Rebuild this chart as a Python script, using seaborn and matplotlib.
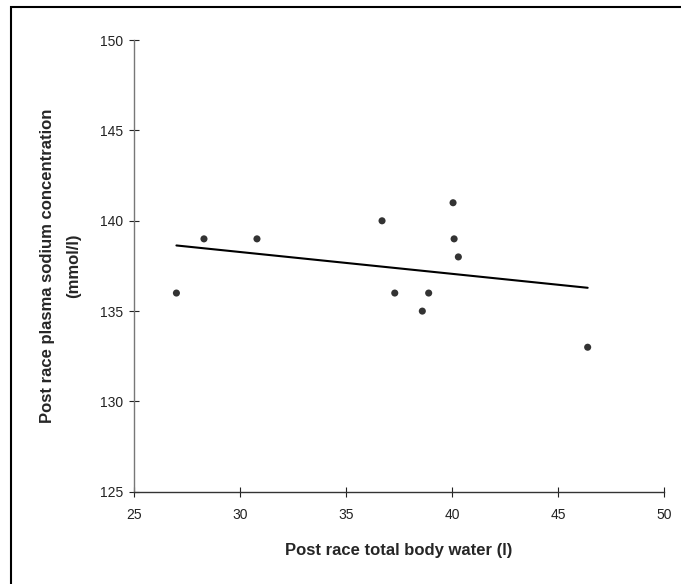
import matplotlib
matplotlib.use("Agg")
import matplotlib.pyplot as plt
import seaborn as sns
import pandas as pd
from matplotlib.patches import Rectangle

# Data
total_body_water = [27.0, 28.3, 30.8, 36.7, 37.3, 38.6, 38.9, 40.05, 40.1, 40.3, 46.4]
plasma_sodium = [136, 139, 139, 140, 136, 135, 136, 141, 139, 138, 133]
x_ticks = [25, 30, 35, 40, 45, 50]
y_ticks = [125, 130, 135, 140, 145, 150]
x_label = "Post race total body water (l)"
y_label = "Post race plasma sodium concentration\n(mmol/l)"

df = pd.DataFrame({"tbw": total_body_water, "na": plasma_sodium})

sns.set_style("white")
plt.rcParams["font.family"] = ["Liberation Sans", "DejaVu Sans"]

fig = plt.figure(figsize=(6.81, 5.84), dpi=100)
ax = fig.add_axes([0.1968, 0.158, 0.975 - 0.1968, 0.9312 - 0.158])

sns.regplot(data=df, x="tbw", y="na", ax=ax, ci=None, truncate=True,
            scatter_kws=dict(s=26, color="#333333", edgecolor="none", alpha=1),
            line_kws=dict(color="black", lw=1.5))

ax.set_xlim(25, 50)
ax.set_ylim(125, 150)
ax.set_xticks(x_ticks)
ax.set_yticks(y_ticks)
ax.set_xlabel(x_label, fontsize=12, fontweight="bold", labelpad=15.5)
ax.set_ylabel(y_label, fontsize=12, fontweight="bold", labelpad=14, linespacing=1.9)

for s in ["top", "right"]:
    ax.spines[s].set_visible(False)
ax.spines["left"].set_color("#777777")
ax.spines["bottom"].set_color("#333333")
ax.spines["left"].set_linewidth(1.0)
ax.spines["bottom"].set_linewidth(1.0)
ax.tick_params(axis="both", which="major", bottom=True, left=True,
               direction="inout", length=7, width=0.8, colors="#222222",
               labelsize=10, pad=4)
ax.tick_params(axis="x", pad=8)
ax.grid(False)

# Frame around the figure: only the left and top edges fall inside the image
fig.patches.append(Rectangle((11 / 681, -0.05), 1.1, 1.05 - 7 / 584,
                             transform=fig.transFigure, fill=False,
                             edgecolor="black", lw=1.5, clip_on=False))

fig.savefig("out.png", dpi=100)
